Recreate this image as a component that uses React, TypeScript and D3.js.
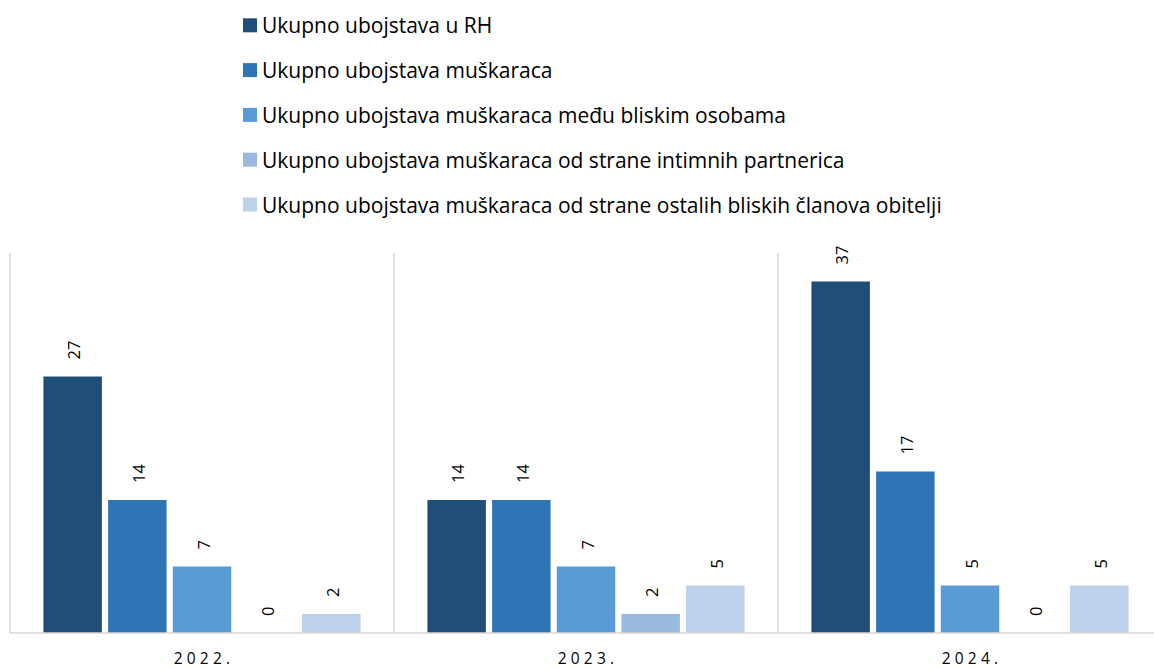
import { useEffect, useRef } from "react";
import * as d3 from "d3";

const W = 1154;
const H = 669;

const years = ["2022.", "2023.", "2024."];
const seriesNames = [
  "Ukupno ubojstava u RH",
  "Ukupno ubojstava muškaraca",
  "Ukupno ubojstava muškaraca među bliskim osobama",
  "Ukupno ubojstava muškaraca od strane intimnih partnerica",
  "Ukupno ubojstava muškaraca od strane ostalih bliskih članova obitelji",
];
const totalRH = [27, 14, 37];
const totalMen = [14, 14, 17];
const closePersons = [7, 7, 5];
const intimatePartners = [0, 2, 0];
const otherFamily = [2, 5, 5];
const seriesValues = [totalRH, totalMen, closePersons, intimatePartners, otherFamily];
const colors = ["#1F4E79", "#2E75B6", "#5B9BD5", "#9AB9DF", "#BDD1EA"];

const PLOT = { left: 10, right: 1154, top: 253, bottom: 633 };
const FONT = "'Open Sans', 'Noto Sans', sans-serif";

export default function App() {
  const svgRef = useRef<SVGSVGElement>(null);

  useEffect(() => {
    if (!svgRef.current) return;
    const svg = d3.select(svgRef.current);
    svg.selectAll("*").remove();

    const x0 = d3.scaleBand<string>().domain(years).range([PLOT.left, PLOT.left + 384 * 3]).padding(0);
    const x1 = d3
      .scaleBand<number>()
      .domain(d3.range(seriesNames.length))
      .range([0, x0.bandwidth()])
      .paddingInner(0.096)
      .paddingOuter(0.517);
    const y = d3.scaleLinear().domain([0, 40]).range([PLOT.bottom, PLOT.top]);

    // Legend
    const legend = svg.append("g");
    seriesNames.forEach((name, i) => {
      const cy = 25.3 + i * 44.8;
      legend
        .append("rect")
        .attr("x", 243)
        .attr("y", cy - 7)
        .attr("width", 14)
        .attr("height", 14)
        .attr("fill", colors[i]);
      legend
        .append("text")
        .attr("x", 262)
        .attr("y", cy)
        .attr("dominant-baseline", "central")
        .attr("font-family", FONT)
        .attr("font-size", 21)
        .attr("fill", "#000")
        .text(name);
    });

    // Category separators
    const seps = years.map((c) => x0(c)!);
    svg
      .append("g")
      .selectAll("line")
      .data(seps)
      .join("line")
      .attr("x1", (d) => d)
      .attr("x2", (d) => d)
      .attr("y1", PLOT.top)
      .attr("y2", PLOT.bottom)
      .attr("stroke", "#d9d9d9")
      .attr("stroke-width", 1.5);

    // Bars
    const g = svg.append("g");
    years.forEach((yr, ci) => {
      const gx = x0(yr)!;
      seriesValues.forEach((vals, si) => {
        const v = vals[ci];
        const bx = gx + x1(si)!;
        g.append("rect")
          .attr("x", bx)
          .attr("y", y(v))
          .attr("width", x1.bandwidth())
          .attr("height", y(0) - y(v))
          .attr("fill", colors[si]);
        const lx = bx + x1.bandwidth() / 2 + 1;
        const ly = y(v) - 17;
        g.append("text")
          .attr("transform", `translate(${lx},${ly}) rotate(-90)`)
          .attr("text-anchor", "start")
          .attr("dominant-baseline", "central")
          .attr("font-family", FONT)
          .attr("font-size", 16.5)
          .attr("fill", "#000")
          .text(String(v));
      });
    });

    // Axis line
    svg
      .append("line")
      .attr("x1", PLOT.left)
      .attr("x2", PLOT.right)
      .attr("y1", PLOT.bottom)
      .attr("y2", PLOT.bottom)
      .attr("stroke", "#d9d9d9")
      .attr("stroke-width", 1.5);

    // Category labels
    svg
      .append("g")
      .selectAll("text")
      .data(years)
      .join("text")
      .attr("x", (d) => x0(d)! + x0.bandwidth() / 2 + 2)
      .attr("y", 664)
      .attr("text-anchor", "middle")
      .attr("font-family", FONT)
      .attr("font-size", 15.5)
      .attr("letter-spacing", 4.2)
      .attr("fill", "#000")
      .text((d) => d);
  }, []);

  return (
    <svg
      ref={svgRef}
      width={W}
      height={H}
      style={{ position: "absolute", left: 0, top: 0, background: "#fff" }}
    />
  );
}
